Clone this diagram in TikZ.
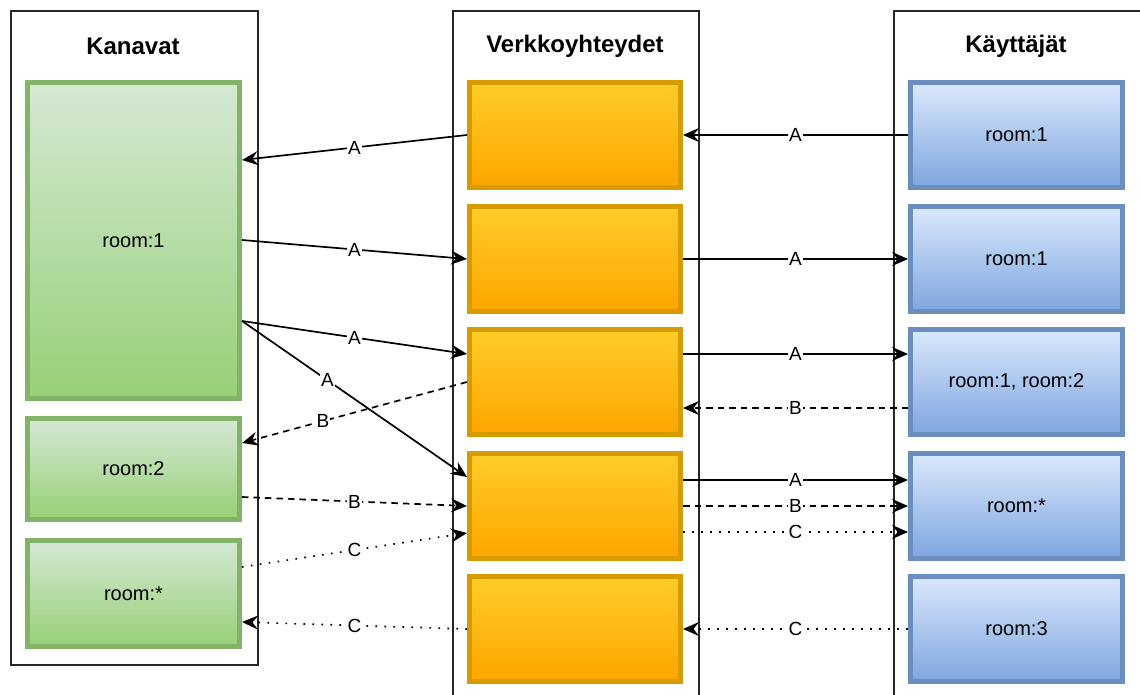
\documentclass[tikz,border=0pt]{standalone}
\usepackage{fontspec}
\setmainfont{Liberation Sans}
\usetikzlibrary{arrows.meta}
\definecolor{gbord}{HTML}{82B366}
\definecolor{gtop}{HTML}{D5E8D4}
\definecolor{gbot}{HTML}{97D077}
\definecolor{obord}{HTML}{D79B00}
\definecolor{otop}{HTML}{FFCD28}
\definecolor{obot}{HTML}{FFA500}
\definecolor{bbord}{HTML}{6C8EBF}
\definecolor{btop}{HTML}{DAE8FC}
\definecolor{bbot}{HTML}{7EA6E0}
\tikzset{
  container/.style={draw=black!85, line width=1.8pt, fill=white, inner sep=0pt, anchor=north west},
  title/.style={font=\bfseries\fontsize{24}{27}\selectfont},
  box/.style={line width=5pt, inner sep=0pt, anchor=north west,
    font=\fontsize{20}{23}\selectfont},
  chan/.style={box, draw=gbord, top color=gtop, bottom color=gbot, minimum width=212pt},
  conn/.style={box, draw=obord, top color=otop, bottom color=obot, minimum width=211pt, minimum height=105pt},
  user/.style={box, draw=bbord, top color=btop, bottom color=bbot, minimum width=212pt, minimum height=105pt},
  link/.style={line width=1.7pt, -{Stealth[length=16pt,width=14pt,inset=5.5pt]}},
  dsh/.style={dash pattern=on 6.5pt off 5pt},
  dtt/.style={dash pattern=on 1.6pt off 7.4pt},
  lab/.style={fill=white, inner sep=0.8pt, font=\fontsize{19}{21}\selectfont},
}
\begin{document}
\begin{tikzpicture}[x=1pt,y=-1pt]
\useasboundingbox (0,0) rectangle (1140,695);
\clip (0,0) rectangle (1140,695);

% columns
\node[container, minimum width=247pt, minimum height=654pt] (colL) at (10,10) {};
\node[container, minimum width=246pt, minimum height=700pt] (colM) at (452,10) {};
\node[container, minimum width=260pt, minimum height=700pt] (colR) at (893,10) {};
\node[title] (tL) at (133,46) {Kanavat};
\node[title] (tM) at (575,46) {Verkkoyhteydet};
\node[title] (tR) at (1016,46) {Käyttäjät};

% channels
\node[chan, minimum height=316pt] (g1) at (25,80) {room:1};
\node[chan, minimum height=101pt] (g2) at (25,416) {room:2};
\node[chan, minimum height=106pt] (g3) at (25,538) {room:*};

% connections
\node[conn] (o1) at (467,80) {};
\node[conn] (o2) at (467,204) {};
\node[conn] (o3) at (467,327) {};
\node[conn] (o4) at (467,451) {};
\node[conn] (o5) at (467,574) {};

% users
\node[user] (b1) at (908,80) {room:1};
\node[user] (b2) at (908,204) {room:1};
\node[user] (b3) at (908,327) {room:1, room:2};
\node[user] (b4) at (908,451) {room:*};
\node[user] (b5) at (908,574) {room:3};

% messages
\draw[link] (o1.west) -- node[lab]{A} (g1.east |- 0,160);
\draw[link] (b1.west) -- node[lab]{A} (o1.east);
\draw[link] (g1.east |- 0,240) -- node[lab]{A} (o2.west);
\draw[link] (o2.east) -- node[lab]{A} (b2.west);
\draw[link] (g1.east |- 0,321) -- node[lab]{A} (o3.west |- 0,354);
\draw[link] (g1.east |- 0,321) -- node[lab,pos=.38]{A} (o4.west |- 0,477);
\draw[link] (o3.east |- 0,354) -- node[lab]{A} (b3.west |- 0,354);
\draw[link,dsh] (o3.west) -- node[lab,pos=.64]{B} (g2.east |- 0,443);
\draw[link,dsh] (b3.west |- 0,408) -- node[lab]{B} (o3.east |- 0,408);
\draw[link,dsh] (g2.east |- 0,497) -- node[lab]{B} (o4.west);
\draw[link] (o4.east |- 0,480) -- node[lab]{A} (b4.west |- 0,480);
\draw[link,dsh] (o4.east) -- node[lab]{B} (b4.west);
\draw[link,dtt] (g3.east |- 0,567) -- node[lab]{C} (o4.west |- 0,533);
\draw[link,dtt] (o4.east |- 0,532) -- node[lab]{C} (b4.west |- 0,532);
\draw[link,dtt] (o5.west) -- node[lab]{C} (g3.east |- 0,622);
\draw[link,dtt] (b5.west) -- node[lab]{C} (o5.east);
\end{tikzpicture}
\end{document}
